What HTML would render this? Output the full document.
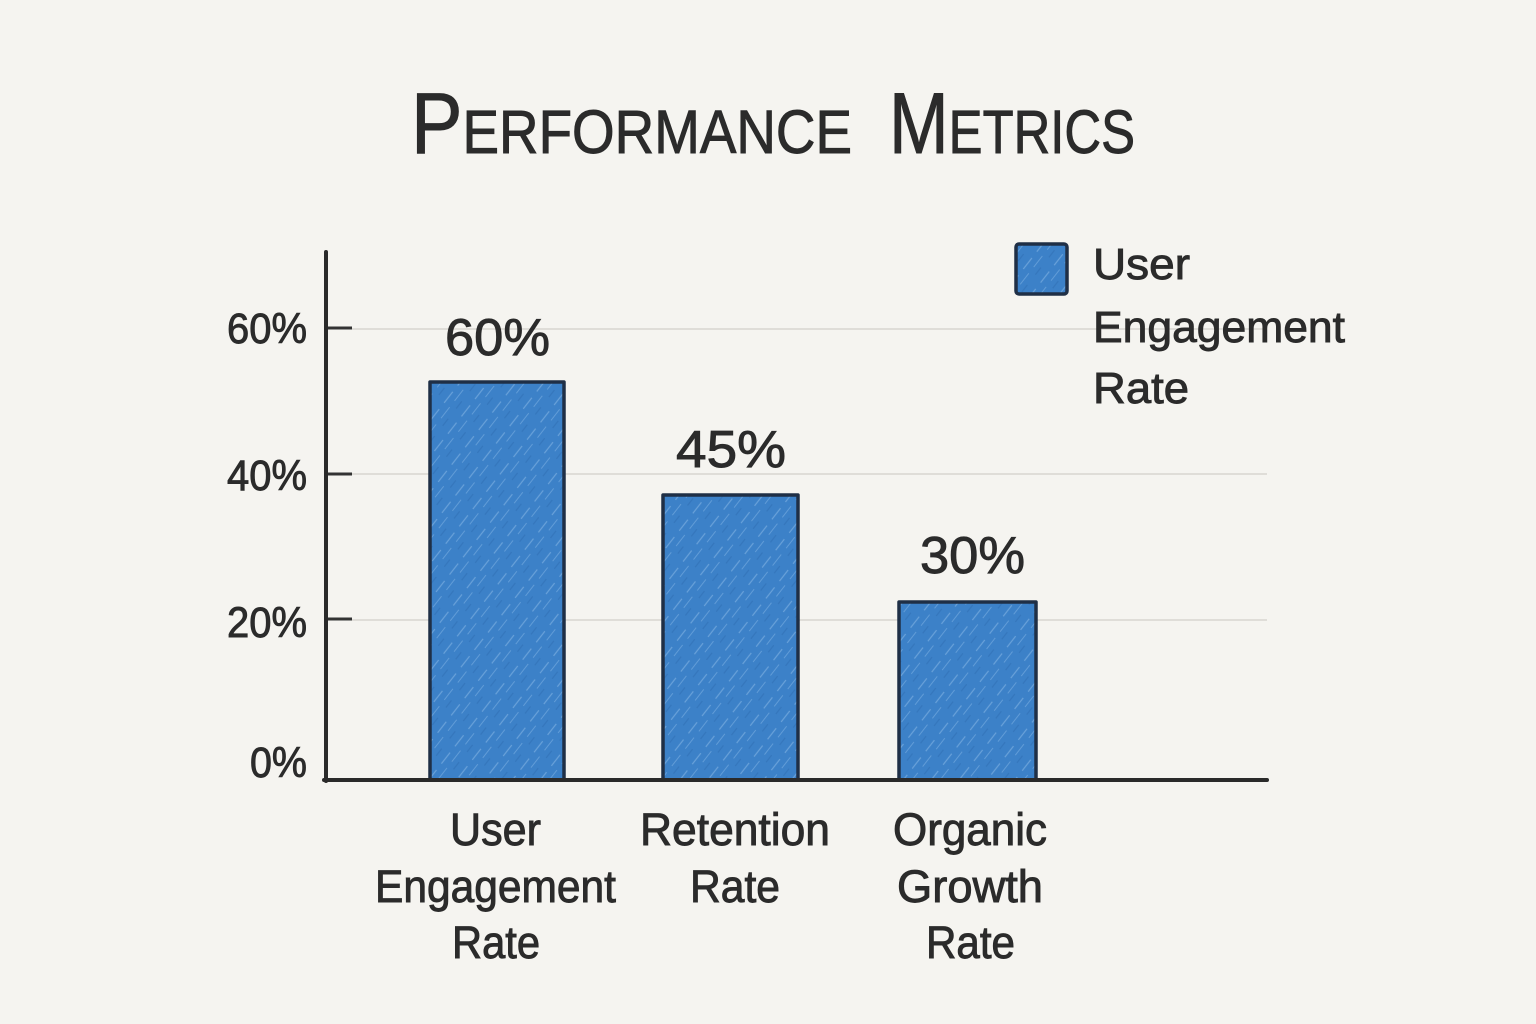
<!DOCTYPE html>
<html>
<head>
<meta charset="utf-8">
<style>
  html,body{margin:0;padding:0;background:#f5f4f0;}
  svg{display:block;}
  text{font-family:"Liberation Sans",sans-serif;fill:#2b2b2b;stroke:#2b2b2b;stroke-width:0.9;}
</style>
</head>
<body>
<svg width="1536" height="1024" viewBox="0 0 1536 1024" xmlns="http://www.w3.org/2000/svg">
  <defs>
    <pattern id="hatch" width="22" height="22" patternUnits="userSpaceOnUse" patternTransform="rotate(-52)">
      <rect width="22" height="22" fill="#3c81c8"/>
      <line x1="0" y1="4" x2="14" y2="4" stroke="#8dbbe8" stroke-width="1.2" opacity="0.55"/>
      <line x1="8" y1="11" x2="22" y2="11" stroke="#8dbbe8" stroke-width="1" opacity="0.45"/>
      <line x1="3" y1="17" x2="12" y2="17" stroke="#2e6cb0" stroke-width="1.3" opacity="0.5"/>
    </pattern>
  </defs>
  <rect width="1536" height="1024" fill="#f5f4f0"/>

  <!-- Title -->
  <g style="stroke-width:1.6">
  <text x="411" y="153" textLength="441" lengthAdjust="spacingAndGlyphs"><tspan font-size="86">P</tspan><tspan font-size="61">ERFORMANCE</tspan></text>
  <text x="889" y="153" textLength="246" lengthAdjust="spacingAndGlyphs"><tspan font-size="86">M</tspan><tspan font-size="61">ETRICS</tspan></text>
  </g>

  <!-- Gridlines -->
  <g stroke="#dfddd8" stroke-width="2">
    <line x1="352" y1="329" x2="1267" y2="329"/>
    <line x1="352" y1="474" x2="1267" y2="474"/>
    <line x1="352" y1="620" x2="1267" y2="620"/>
  </g>
  <!-- Ticks -->
  <g stroke="#333" stroke-width="3">
    <line x1="326" y1="328" x2="352" y2="328"/>
    <line x1="326" y1="474" x2="352" y2="474"/>
    <line x1="326" y1="619" x2="352" y2="619"/>
  </g>

  <!-- Y tick labels -->
  <g font-size="43" text-anchor="end">
    <text x="307" y="343" textLength="80" lengthAdjust="spacingAndGlyphs">60%</text>
    <text x="307" y="490" textLength="80" lengthAdjust="spacingAndGlyphs">40%</text>
    <text x="307" y="637" textLength="80" lengthAdjust="spacingAndGlyphs">20%</text>
    <text x="307" y="777" textLength="57" lengthAdjust="spacingAndGlyphs">0%</text>
  </g>

  <!-- Bars -->
  <g stroke="#1f2f46" stroke-width="3.5" stroke-linejoin="round">
    <rect x="430" y="382" width="134" height="398" fill="url(#hatch)"/>
    <rect x="663" y="495" width="135" height="285" fill="url(#hatch)"/>
    <rect x="899" y="602" width="137" height="178" fill="url(#hatch)"/>
  </g>

  <!-- Axes -->
  <line x1="326" y1="252" x2="326" y2="781" stroke="#2a2a2a" stroke-width="4" stroke-linecap="round"/>
  <line x1="324" y1="780" x2="1267" y2="780" stroke="#2a2a2a" stroke-width="4" stroke-linecap="round"/>

  <!-- Value labels -->
  <g font-size="52">
    <text x="445" y="355" textLength="105" lengthAdjust="spacingAndGlyphs">60%</text>
    <text x="676" y="467" textLength="110" lengthAdjust="spacingAndGlyphs">45%</text>
    <text x="920" y="573" textLength="105" lengthAdjust="spacingAndGlyphs">30%</text>
  </g>

  <!-- X labels -->
  <g font-size="45">
    <text x="450" y="845" textLength="91" lengthAdjust="spacingAndGlyphs">User</text>
    <text x="375" y="902" textLength="241" lengthAdjust="spacingAndGlyphs">Engagement</text>
    <text x="452" y="958" textLength="88" lengthAdjust="spacingAndGlyphs">Rate</text>

    <text x="640" y="845" textLength="190" lengthAdjust="spacingAndGlyphs">Retention</text>
    <text x="690" y="902" textLength="90" lengthAdjust="spacingAndGlyphs">Rate</text>

    <text x="893" y="845" textLength="154" lengthAdjust="spacingAndGlyphs">Organic</text>
    <text x="897" y="902" textLength="146" lengthAdjust="spacingAndGlyphs">Growth</text>
    <text x="926" y="958" textLength="89" lengthAdjust="spacingAndGlyphs">Rate</text>
  </g>

  <!-- Legend -->
  <rect x="1016" y="244" width="51" height="50" rx="3" fill="url(#hatch)" stroke="#1f2f46" stroke-width="3.5"/>
  <g font-size="44">
    <text x="1093" y="279" textLength="97" lengthAdjust="spacingAndGlyphs">User</text>
    <text x="1093" y="342" textLength="252" lengthAdjust="spacingAndGlyphs">Engagement</text>
    <text x="1093" y="403" textLength="96" lengthAdjust="spacingAndGlyphs">Rate</text>
  </g>
</svg>
</body>
</html>
